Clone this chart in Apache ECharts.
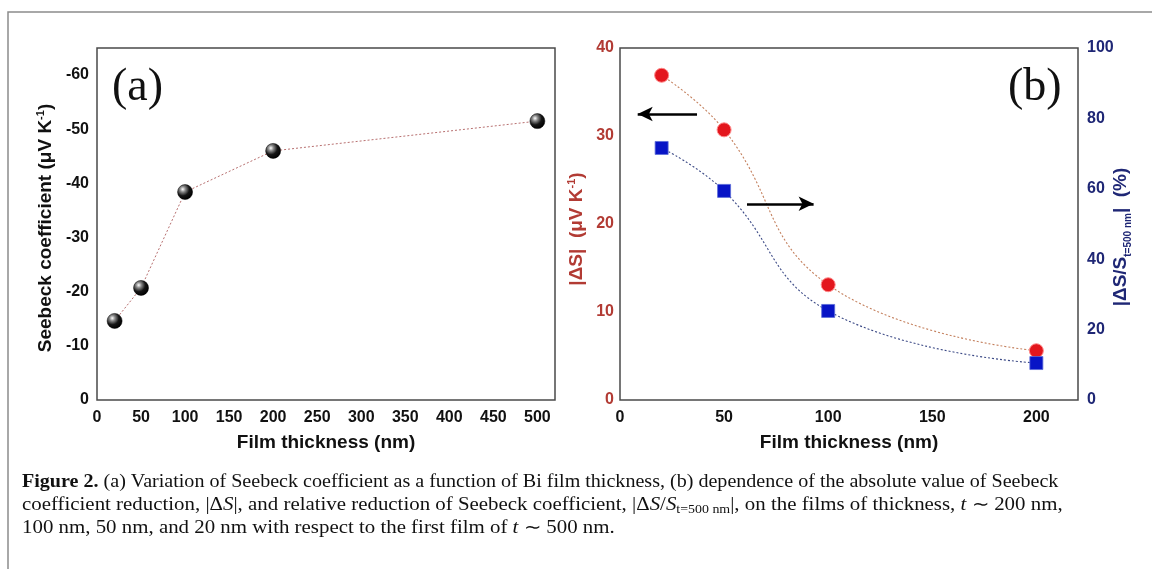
<!DOCTYPE html>
<html>
<head>
<meta charset="utf-8">
<script src="https://cdn.jsdelivr.net/npm/echarts@6/dist/echarts.min.js"></script>
<style>html,body{margin:0;padding:0;background:#fff;}#c{width:1152px;height:569px;}</style>
</head>
<body>
<div id="c"></div>
<script>
// ---- data ----
const thicknessA = [20, 50, 100, 200, 500];
const seebeck = [-14.6, -20.7, -38.4, -46.0, -51.5];
const thicknessB = [20, 50, 100, 200];
const deltaS = [36.9, 30.7, 13.1, 5.6];
const relDelta = [71.6, 59.4, 25.3, 10.5];
const xTicksA = [0, 50, 100, 150, 200, 250, 300, 350, 400, 450, 500];
const xTicksB = [0, 50, 100, 150, 200];

const RED = '#b23b34', NAVY = '#1f2775';
const labFont = {fontFamily: 'Liberation Sans, Arial', fontWeight: 'bold', fontSize: 16};

const chart = echarts.init(document.getElementById('c'));
const sphere = {type: 'radial', x: 0.35, y: 0.32, r: 0.7,
  colorStops: [{offset: 0, color: '#ffffff'}, {offset: 0.25, color: '#8a8a8a'}, {offset: 0.6, color: '#151515'}, {offset: 1, color: '#000'}]};

const capFont = '18px "Liberation Serif", serif';

const option = {
  animation: false,
  backgroundColor: '#fff',
  grid: [
    {left: 97, top: 48, width: 458, height: 352, show: true, borderColor: '#4a4a4a', borderWidth: 1.5, backgroundColor: 'transparent'},
    {left: 620, top: 48, width: 458, height: 352, show: true, borderColor: '#4a4a4a', borderWidth: 1.5, backgroundColor: 'transparent'}
  ],
  xAxis: [
    {type: 'value', gridIndex: 0, min: 0, max: 520, interval: 10,
     axisLine: {show: false}, axisTick: {show: false}, splitLine: {show: false},
     axisLabel: Object.assign({color: '#111', margin: 10, formatter: v => xTicksA.includes(v) ? String(v) : ''}, labFont),
     name: 'Film thickness (nm)', nameLocation: 'middle', nameGap: 33,
     nameTextStyle: {fontFamily: 'Liberation Sans, Arial', fontWeight: 'bold', fontSize: 19, color: '#111'}},
    {type: 'value', gridIndex: 1, min: 0, max: 220, interval: 10,
     axisLine: {show: false}, axisTick: {show: false}, splitLine: {show: false},
     axisLabel: Object.assign({color: '#111', margin: 10, formatter: v => xTicksB.includes(v) ? String(v) : ''}, labFont),
     name: 'Film thickness (nm)', nameLocation: 'middle', nameGap: 33,
     nameTextStyle: {fontFamily: 'Liberation Sans, Arial', fontWeight: 'bold', fontSize: 19, color: '#111'}}
  ],
  yAxis: [
    {type: 'value', gridIndex: 0, inverse: true, min: -65, max: 0, interval: 5,
     axisLine: {show: false}, axisTick: {show: false}, splitLine: {show: false},
     axisLabel: Object.assign({color: '#111', margin: 8, formatter: v => (v % 10 === 0) ? String(v) : ''}, labFont)},
    {type: 'value', gridIndex: 1, min: 0, max: 40, interval: 10, position: 'left',
     axisLine: {show: false}, axisTick: {show: false}, splitLine: {show: false},
     axisLabel: Object.assign({color: RED, margin: 6}, labFont)},
    {type: 'value', gridIndex: 1, min: 0, max: 100, interval: 20, position: 'right',
     axisLine: {show: false}, axisTick: {show: false}, splitLine: {show: false},
     axisLabel: Object.assign({color: NAVY, margin: 9}, labFont)}
  ],
  series: [
    {type: 'line', xAxisIndex: 0, yAxisIndex: 0,
     data: thicknessA.map((x, i) => [x, seebeck[i]]),
     symbol: 'circle', symbolSize: 15,
     itemStyle: {color: sphere, borderColor: '#000', borderWidth: 0.5},
     lineStyle: {color: '#b87070', width: 1, type: [2, 2]}},
    {type: 'line', xAxisIndex: 1, yAxisIndex: 1, smooth: 0.45,
     data: thicknessB.map((x, i) => [x, deltaS[i]]),
     symbol: 'circle', symbolSize: 14,
     itemStyle: {color: '#e3161d', borderColor: '#f88', borderWidth: 1},
     lineStyle: {color: '#c4805e', width: 1.1, type: [2, 2]},
     markLine: {silent: true, symbol: ['none', 'arrow'], symbolSize: [11, 15],
       label: {show: false},
       lineStyle: {color: '#000', width: 2.5, type: 'solid'},
       data: [
         [{coord: [37, 32.5]}, {coord: [8.5, 32.5]}],
         [{coord: [61, 22.3]}, {coord: [93, 22.3]}]
       ]}},
    {type: 'line', xAxisIndex: 1, yAxisIndex: 2, smooth: 0.45, z: 3,
     data: thicknessB.map((x, i) => [x, relDelta[i]]),
     symbol: 'rect', symbolSize: 13,
     itemStyle: {color: '#0714c6', borderColor: '#5b6bd8', borderWidth: 0.8},
     lineStyle: {color: '#3c4a86', width: 1.1, type: [2, 2]}}
  ],
  graphic: [
    {type: 'rect', shape: {x: 8, y: 12, width: 1160, height: 600}, z: -10,
     style: {fill: 'none', stroke: '#8c8c8c', lineWidth: 1.5}},
    {type: 'text', x: 112, y: 65, z: 10,
     style: {text: '(a)', font: '46px "Liberation Serif", serif', fill: '#111'}},
    {type: 'text', x: 1008, y: 65, z: 10,
     style: {text: '(b)', font: '46px "Liberation Serif", serif', fill: '#111'}},
    // y titles
    {type: 'text', x: 46, y: 228, rotation: Math.PI / 2, z: 10,
     style: {text: 'Seebeck coefficient (μV K{sup|-1})', align: 'center', verticalAlign: 'middle',
       font: 'bold 19px "Liberation Sans", Arial', fill: '#111', lineHeight: 22,
       rich: {sup: {font: 'bold 11px "Liberation Sans", Arial', fill: '#111', verticalAlign: 'top', lineHeight: 12}}}},
    {type: 'text', x: 577, y: 229, rotation: Math.PI / 2, z: 10,
     style: {text: '|ΔS|  (μV K{sup|-1})', align: 'center', verticalAlign: 'middle',
       font: 'bold 19px "Liberation Sans", Arial', fill: RED, lineHeight: 22,
       rich: {sup: {font: 'bold 11px "Liberation Sans", Arial', fill: RED, verticalAlign: 'top', lineHeight: 12}}}},
    {type: 'text', x: 1121, y: 237, rotation: Math.PI / 2, z: 10,
     style: {text: '|ΔS/S{sub|t=500 nm}|  (%)', align: 'center', verticalAlign: 'middle',
       font: 'bold 19px "Liberation Sans", Arial', fill: NAVY, lineHeight: 24,
       rich: {sub: {font: 'bold 10px "Liberation Sans", Arial', fill: NAVY, verticalAlign: 'bottom', lineHeight: 11}}}},
    // caption
    {type: 'text', x: 22, y: 482, scaleX: 1.115,
     style: {text: '{b|Figure 2.} (a) Variation of Seebeck coefficient as a function of Bi film thickness, (b) dependence of the absolute value of Seebeck',
       verticalAlign: 'middle', font: capFont, fill: '#111', lineHeight: 22,
       rich: {b: {font: 'bold 18px "Liberation Serif", serif', fill: '#111'}}}},
    {type: 'text', x: 22, y: 505, scaleX: 1.16,
     style: {text: 'coefficient reduction, |Δ{i|S}|, and relative reduction of Seebeck coefficient, |Δ{i|S}/{i|S}{sub|t=500 nm}|, on the films of thickness, {i|t} ∼ 200 nm,',
       verticalAlign: 'middle', font: capFont, fill: '#111', lineHeight: 22,
       rich: {i: {font: 'italic 18px "Liberation Serif", serif', fill: '#111'},
              sub: {font: '12px "Liberation Serif", serif', fill: '#111', verticalAlign: 'bottom', lineHeight: 10}}}},
    {type: 'text', x: 22, y: 528, scaleX: 1.16,
     style: {text: '100 nm, 50 nm, and 20 nm with respect to the first film of {i|t} ∼ 500 nm.',
       verticalAlign: 'middle', font: capFont, fill: '#111', lineHeight: 22,
       rich: {i: {font: 'italic 18px "Liberation Serif", serif', fill: '#111'}}}}
  ]
};
chart.setOption(option);
</script>
</body>
</html>
